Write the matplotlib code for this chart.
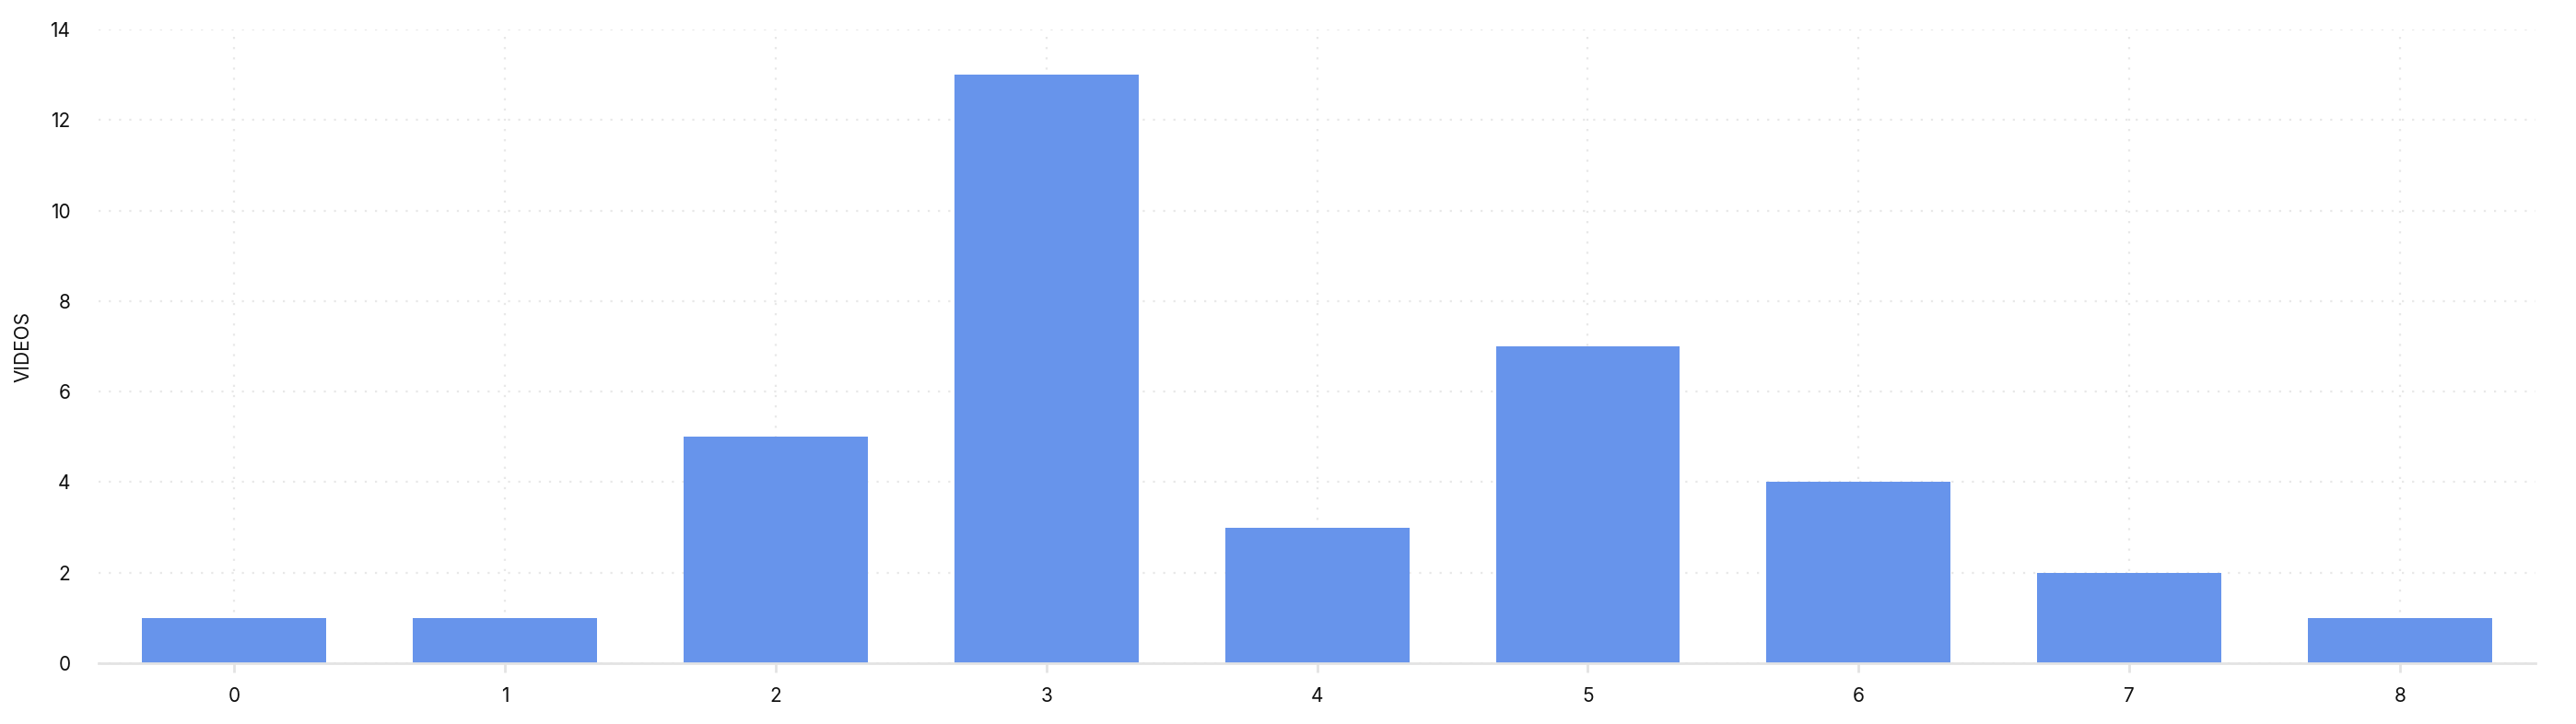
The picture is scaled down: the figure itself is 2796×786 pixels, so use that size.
import matplotlib
matplotlib.use("Agg")
import matplotlib.pyplot as plt

plt.rcParams['font.family'] = ['Inter', 'DejaVu Sans']

# Data
categories = ['0', '1', '2', '3', '4', '5', '6', '7', '8']
videos = [1, 1, 5, 13, 3, 7, 4, 2, 1]
y_ticks = [0, 2, 4, 6, 8, 10, 12, 14]

bar_color = '#6794eb'
grid_color = '#e8e8e8'

fig = plt.figure(figsize=(27.96, 7.86), dpi=100)
ax = fig.add_axes([0.0383, 0.084, 0.9460, 0.875])

x = list(range(len(categories)))
ax.bar(x, videos, width=0.68, color=bar_color, zorder=3)

ax.set_xlim(-0.5, len(categories) - 0.5)
ax.set_ylim(0, 14)
ax.set_xticks(x)
ax.set_xticklabels(categories)
ax.set_yticks(y_ticks)

# dotted grid behind bars
ax.grid(True, linestyle=(0, (1, 4)), color=grid_color, linewidth=1.6, zorder=0)
ax.set_axisbelow(True)

for s in ['top', 'right', 'left']:
	ax.spines[s].set_visible(False)
ax.spines['bottom'].set_color('#e3e3e3')
ax.spines['bottom'].set_linewidth(2)
ax.spines['bottom'].set_zorder(4)

ax.tick_params(axis='x', length=7, width=2, color='#e3e3e3', pad=12, labelsize=15, labelcolor='#111111')
ax.tick_params(axis='y', length=0, pad=22, labelsize=15, labelcolor='#111111')

ax.set_ylabel('VIDEOS', fontsize=15, color='#111111', labelpad=14)

fig.savefig('out.png', dpi=100)
